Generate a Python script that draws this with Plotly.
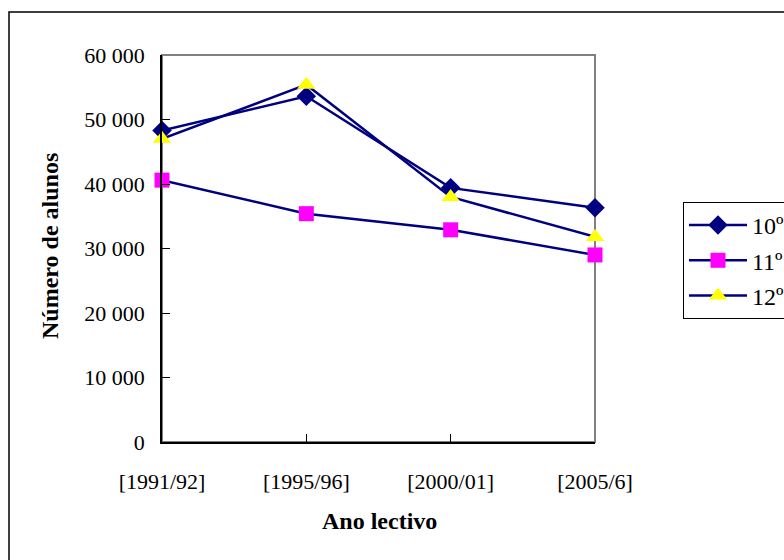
import plotly.graph_objects as go

categories = ["[1991/92]", "[1995/96]", "[2000/01]", "[2005/6]"]
series_names = ["10º", "11º", "12º"]
v10 = [48300, 53600, 39400, 36300]
v11 = [40600, 35400, 32900, 29000]
v12 = [47000, 55400, 38000, 31800]
y_ticks = [0, 10000, 20000, 30000, 40000, 50000, 60000]

W, H = 784, 560
L, R, T, B = 162, 595, 55, 442
pw, ph = R - L, B - T

FONT = "Liberation Serif, Times New Roman, serif"
NAVY = "#000080"

fig = go.Figure()
styles = [
    dict(symbol="diamond", color=NAVY, size=15),
    dict(symbol="square", color="#FF00FF", size=15),
    dict(symbol="triangle-up", color="#FFFF00", size=16),
]
xs = list(range(len(categories)))
for name, vals, st in zip(series_names, [v10, v11, v12], styles):
    fig.add_trace(go.Scatter(
        x=xs, y=vals, name=name, mode="lines+markers",
        line=dict(color=NAVY, width=2.5),
        marker=dict(symbol=st["symbol"], color=st["color"], size=st["size"],
                    line=dict(width=0)),
        cliponaxis=False, legendgroup=name,
    ))

def px(x):
    return (x - L) / pw

def py(y):
    return (B - y) / ph

# outer chart border
fig.add_shape(type="rect", xref="paper", yref="paper",
              x0=px(9), x1=px(800), y0=py(580), y1=py(12),
              line=dict(color="black", width=1.5), layer="below")
# plot area border (gray)
fig.add_shape(type="rect", xref="paper", yref="paper",
              x0=0, x1=1, y0=0, y1=1,
              line=dict(color="#808080", width=2), layer="below")

fig.update_layout(
    width=W, height=H,
    margin=dict(l=L, r=W - R, t=T, b=H - B, pad=0, autoexpand=False),
    paper_bgcolor="white", plot_bgcolor="white",
    separators=", ",
    font=dict(family=FONT, size=22, color="black"),
    showlegend=True,
    legend=dict(
        x=px(683), y=py(202), xanchor="left", yanchor="top",
        bgcolor="white", bordercolor="black", borderwidth=1,
        font=dict(family=FONT, size=24),
        itemwidth=58, tracegroupgap=1,
    ),
    xaxis=dict(
        range=[0, len(categories) - 1], tickvals=xs, ticktext=categories,
        showgrid=False, zeroline=False, showline=True, linecolor="black",
        linewidth=1.5, ticks="inside", ticklen=8, tickcolor="black",
        ticklabelstandoff=19, tickfont=dict(family=FONT, size=22),
    ),
    yaxis=dict(
        range=[0, 60000], tickvals=y_ticks, tickformat=",d",
        showgrid=False, zeroline=False, showline=True, linecolor="black",
        linewidth=1.5, ticks="inside", ticklen=8, tickcolor="black",
        ticklabelstandoff=11, tickfont=dict(family=FONT, size=22),
    ),
    annotations=[
        dict(text="<b>Ano lectivo</b>", xref="paper", yref="paper",
             x=px(379), y=py(521), xanchor="center", yanchor="middle",
             showarrow=False, font=dict(family=FONT, size=24)),
        dict(text="<b>Número de alunos</b>", xref="paper", yref="paper",
             x=px(50), y=py(246), xanchor="center", yanchor="middle",
             textangle=-90, showarrow=False, font=dict(family=FONT, size=24)),
    ],
)

fig.write_html("out.html")
